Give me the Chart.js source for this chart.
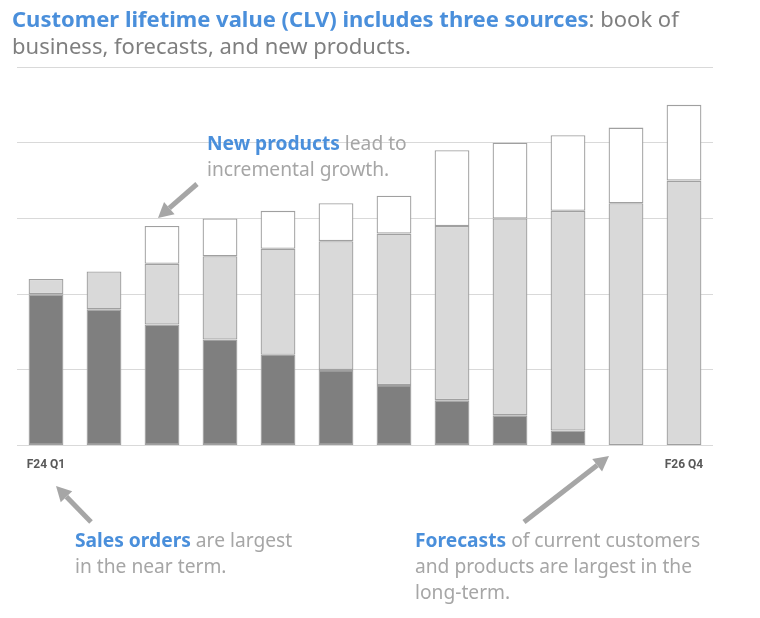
<!DOCTYPE html>
<html lang="en">
  <head>
    <meta charset="UTF-8" />
    <title>Customer lifetime value</title>
    <script src="https://cdn.jsdelivr.net/npm/chart.js"></script>
    <style>
      html, body { margin: 0; padding: 0; background: #fff; }
      #wrap { width: 760px; height: 618px; position: relative; }
    </style>
  </head>
  <body>
    <div id="wrap"><canvas id="clvChart"></canvas></div>
    <script>
      // quarters F24 Q1 .. F26 Q4, only first and last labelled
      const quarters = ['F24 Q1', 'F24 Q2', 'F24 Q3', 'F24 Q4', 'F25 Q1', 'F25 Q2',
        'F25 Q3', 'F25 Q4', 'F26 Q1', 'F26 Q2', 'F26 Q3', 'F26 Q4'];
      const shownTicks = ['F24 Q1', 'F26 Q4'];

      // stacked segments (gridline units)
      const salesOrders = [2.0, 1.8, 1.6, 1.4, 1.2, 1.0, 0.8, 0.6, 0.4, 0.2, 0, 0];
      const forecasts = [0.2, 0.5, 0.8, 1.1, 1.4, 1.7, 2.0, 2.3, 2.6, 2.9, 3.2, 3.5];
      const newProducts = [0, 0, 0.5, 0.5, 0.5, 0.5, 0.5, 1.0, 1.0, 1.0, 1.0, 1.0];

      const BLUE = '#4a8fdb';
      const GREY = '#a6a6a6';
      const EDGE = '#a0a0a0';
      const FONT = '"Noto Sans", sans-serif';

      // text runs: [text, bold, colour]
      const notes = [
        { x: 12, y: 27, size: 22, gap: 27, lines: [
          [['Customer lifetime value (CLV) includes three sources', true, BLUE], [': book of', false, '#7f7f7f']],
          [['business, forecasts, and new products.', false, '#7f7f7f']],
        ] },
        { x: 207, y: 150, size: 19.2, gap: 26, lines: [
          [['New products', true, BLUE], [' lead to', false, GREY]],
          [['incremental growth.', false, GREY]],
        ] },
        { x: 75, y: 547, size: 19.2, gap: 26, lines: [
          [['Sales orders', true, BLUE], [' are largest', false, GREY]],
          [['in the near term.', false, GREY]],
        ] },
        { x: 415, y: 547, size: 19.2, gap: 26, lines: [
          [['Forecasts', true, BLUE], [' of current customers', false, GREY]],
          [['and products are largest in the', false, GREY]],
          [['long-term.', false, GREY]],
        ] },
      ];

      // arrows: tail -> tip
      const arrows = [
        [197, 184, 158, 218],
        [91, 522, 56, 486],
        [524, 522, 609, 456],
      ];

      const annotations = {
        id: 'annotations',
        afterDraw(chart) {
          const ctx = chart.ctx;
          ctx.save();
          ctx.textBaseline = 'alphabetic';
          notes.forEach((n) => {
            n.lines.forEach((runs, i) => {
              let x = n.x;
              runs.forEach(([text, bold, color]) => {
                ctx.font = (bold ? 'bold ' : '') + n.size + 'px ' + FONT;
                ctx.fillStyle = color;
                ctx.fillText(text, x, n.y + i * n.gap);
                x += ctx.measureText(text).width;
              });
            });
          });
          ctx.strokeStyle = GREY;
          ctx.fillStyle = GREY;
          ctx.lineWidth = 5;
          arrows.forEach(([x1, y1, x2, y2]) => {
            const a = Math.atan2(y2 - y1, x2 - x1);
            const head = 15;
            const bx = x2 - head * Math.cos(a);
            const by = y2 - head * Math.sin(a);
            ctx.beginPath();
            ctx.moveTo(x1, y1);
            ctx.lineTo(bx, by);
            ctx.stroke();
            ctx.beginPath();
            ctx.moveTo(x2, y2);
            ctx.lineTo(bx + 8 * Math.sin(a), by - 8 * Math.cos(a));
            ctx.lineTo(bx - 8 * Math.sin(a), by + 8 * Math.cos(a));
            ctx.closePath();
            ctx.fill();
          });
          ctx.restore();
        },
      };

      const seg = (label, data, color) => ({
        label: label,
        data: data,
        backgroundColor: color,
        borderColor: EDGE,
        borderWidth: 1.3,
        borderSkipped: false,
        categoryPercentage: 1,
        barPercentage: 0.6,
      });

      new Chart(document.getElementById('clvChart'), {
        type: 'bar',
        data: {
          labels: quarters,
          datasets: [
            seg('Sales orders', salesOrders, '#7f7f7f'),
            seg('Forecasts', forecasts, '#d9d9d9'),
            seg('New products', newProducts, '#ffffff'),
          ],
        },
        options: {
          responsive: true,
          maintainAspectRatio: false,
          animation: false,
          layout: { padding: { left: 17, right: 47, top: 67, bottom: 134 } },
          plugins: { legend: { display: false }, tooltip: { enabled: false } },
          scales: {
            x: {
              stacked: true,
              grid: { display: false, drawTicks: false },
              border: { display: false },
              ticks: {
                autoSkip: false,
                maxRotation: 0,
                padding: 12,
                color: '#595959',
                font: { family: '"Liberation Sans Narrow", "Roboto", sans-serif', size: 12, weight: 'bold' },
                callback: function (v) {
                  const l = this.getLabelForValue(v);
                  return shownTicks.includes(l) ? l : '';
                },
              },
            },
            y: {
              stacked: true,
              min: 0,
              max: 5,
              ticks: { display: false, stepSize: 1 },
              grid: { color: '#d9d9d9', drawTicks: false },
              border: { display: false },
            },
          },
        },
        plugins: [annotations],
      });
    </script>
  </body>
</html>
